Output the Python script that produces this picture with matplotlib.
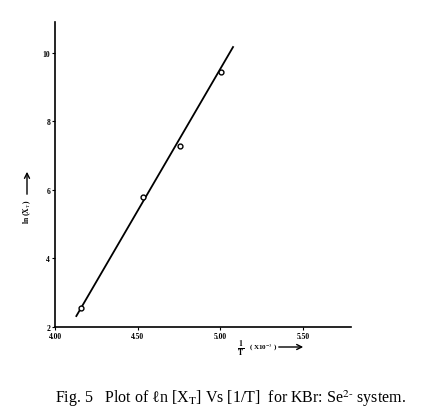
"""Plot of ln(X_T) vs 1/T for KBr:Se2- system."""

import matplotlib
matplotlib.use("Agg")
import matplotlib.pyplot as plt

plt.rcParams["font.family"] = ["Liberation Serif", "DejaVu Serif"]
plt.rcParams["mathtext.fontset"] = "stix"

# measured points
inv_T = [4.156, 4.533, 4.758, 5.004]
ln_XT = [2.56, 5.79, 7.28, 9.44]

# straight-line fit as drawn in the figure (end points)
fit_x = [4.129, 5.077]
fit_y = [2.32, 10.17]

x_ticks = [4.00, 4.50, 5.00, 5.50]
x_ticklabels = ["4.00", "4.50", "5.00", "5.50"]
y_ticks = [2, 4, 6, 8, 10]

fig = plt.figure(figsize=(4.39, 4.14), dpi=100)
ax = fig.add_axes([0.1253, 0.2077, 0.674, 0.7367])

ax.plot(fit_x, fit_y, color="black", lw=1.3)
ax.plot(inv_T, ln_XT, "o", ms=3.5, mfc="white", mec="black", mew=1.0)

ax.set_xlim(4.0, 5.79)
ax.set_ylim(2.0, 10.9)
ax.set_xticks(x_ticks)
ax.set_xticklabels(x_ticklabels)
ax.set_yticks(y_ticks)
for s in ("top", "right"):
    ax.spines[s].set_visible(False)
for s in ("left", "bottom"):
    ax.spines[s].set_linewidth(1.2)
ax.tick_params(axis="both", length=2.5, width=0.8, labelsize=5.5, pad=1)
for lbl in ax.get_xticklabels() + ax.get_yticklabels():
    lbl.set_fontweight("bold")

# y label with upward arrow
fig.text(27 / 439, 1 - 212 / 414, r"ln (X$_\mathrm{T}$)", rotation=90,
         ha="center", va="center", fontsize=5.5, fontweight="bold")
fig.patches.append(matplotlib.patches.FancyArrowPatch(
    (27 / 439, 1 - 198 / 414), (27 / 439, 1 - 170 / 414),
    transform=fig.transFigure, arrowstyle="->", mutation_scale=9,
    color="black", lw=1.0))

# x label with right arrow
fig.text(241 / 439, 1 - 349 / 414, r"$\mathbf{\frac{1}{T}}$", ha="center",
         va="center", fontsize=8)
fig.text(263 / 439, 1 - 348 / 414, r"( X10$^{-3}$ )", ha="center",
         va="center", fontsize=5, fontweight="bold")
fig.patches.append(matplotlib.patches.FancyArrowPatch(
    (276 / 439, 1 - 348 / 414), (306 / 439, 1 - 348 / 414),
    transform=fig.transFigure, arrowstyle="->", mutation_scale=9,
    color="black", lw=1.0))

# caption
fig.text(231 / 439, 1 - 399 / 414,
         r"Fig. 5   Plot of ℓn [X$_\mathrm{T}$] Vs [1/T]  for KBr: Se$^{2\text{-}}$ system.",
         ha="center", va="center", fontsize=11.5)

fig.savefig("out.png", dpi=100)
